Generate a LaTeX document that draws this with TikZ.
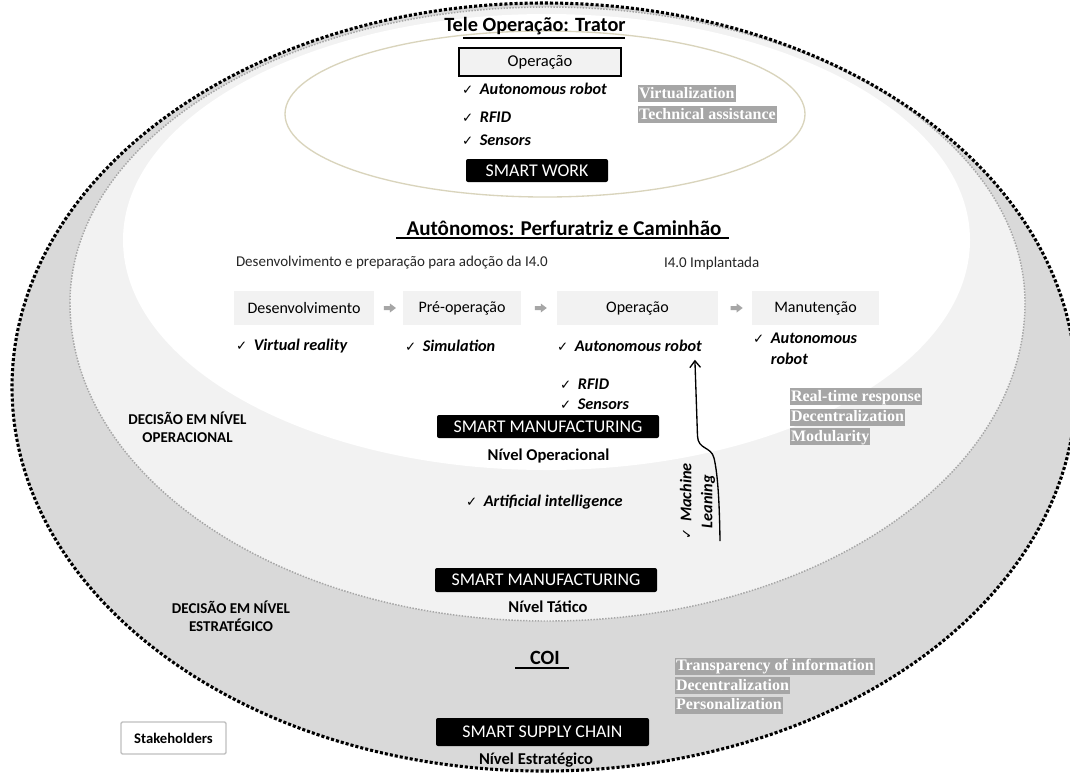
\documentclass[tikz,border=0pt]{standalone}
\usepackage{fontspec}
\setmainfont{Carlito}
\newfontfamily\tagfont{Liberation Serif}
\newfontfamily\tickfont{DejaVu Sans}
\usetikzlibrary{calc,arrows.meta}

\definecolor{ringouter}{HTML}{D9D9D9}
\definecolor{ringmid}{HTML}{F2F2F2}
\definecolor{ringdots}{HTML}{A6A6A6}
\definecolor{teleline}{HTML}{D9D4BC}
\definecolor{tagfill}{HTML}{A6A6A6}
\definecolor{stagefill}{HTML}{F2F2F2}
\definecolor{cuegray}{HTML}{A6A6A6}
\definecolor{stakeline}{HTML}{BFBFBF}

% check mark used in front of every technology item
\newcommand{\tick}{{\tickfont\fontsize{10}{10}\selectfont ✓}\hspace{5pt}}

\begin{document}
\begin{tikzpicture}[x=0.75pt, y=-0.75pt,
  every node/.style={inner sep=0pt, outer sep=0pt},
  titleA/.style={font=\fontsize{15.2}{18}\selectfont\bfseries},
  titleB/.style={font=\fontsize{15.8}{19}\selectfont\bfseries},
  rule/.style={line width=1pt},
  opbox/.style={draw=black, line width=0.9pt, fill=stagefill, minimum width=121.5pt, minimum height=21pt, font=\fontsize{12.4}{15}\selectfont},
  item/.style={anchor=west, font=\fontsize{12.2}{15.75}\selectfont\bfseries\itshape},
  blackbox/.style={fill=black, text=white, rounded corners=1.5pt, font=\fontsize{13.4}{16}\selectfont},
  tag/.style={anchor=west, fill=tagfill, text=white, font=\tagfont\bfseries\fontsize{12}{14}\selectfont, inner xsep=0.8pt, inner ysep=0.5pt, text height=9.3pt, text depth=2.45pt},
  phase/.style={anchor=west, text=black!85, font=\fontsize{11.25}{13}\selectfont},
  stagebox/.style={fill=stagefill, minimum height=25.5pt, font=\fontsize{12}{14}\selectfont},
  cue/.style={fill=cuegray},
  level/.style={font=\fontsize{12.4}{15}\selectfont\bfseries},
  decision/.style={align=center, font=\fontsize{11.25}{13.25}\selectfont\bfseries},
  stakebox/.style={draw=stakeline, line width=1.1pt, fill=white, rounded corners=1pt, minimum width=78.75pt, minimum height=24pt, font=\fontsize{11}{13}\selectfont\bfseries},
  learn/.style={line width=1pt, -{Straight Barb[length=5pt, width=8pt]}},
]
\useasboundingbox (0,0) rectangle (1070,772);
\clip (0,0) rectangle (1070,772);
\fill[white] (0,0) rectangle (1070,772);

% decision levels as nested rings
\fill[ringouter] (544,387) ellipse [x radius=532, y radius=384];
\fill[ringmid] (70,303) arc[start angle=180, end angle=360, x radius=477.5, y radius=296]
               arc[start angle=0, end angle=180, x radius=477.5, y radius=318] -- cycle;
\fill[white] (123,240) arc[start angle=180, end angle=360, x radius=423.5, y radius=226]
             arc[start angle=0, end angle=180, x radius=423.5, y radius=230] -- cycle;
\draw[teleline, line width=1pt] (545,114) ellipse [x radius=260, y radius=83];
\draw[ringdots, line width=1.1pt, dash pattern=on 1.1pt off 1.1pt]
      (70,303) arc[start angle=180, end angle=360, x radius=477.5, y radius=296]
               arc[start angle=0, end angle=180, x radius=477.5, y radius=318] -- cycle;
\draw[black, line width=2.3pt, dash pattern=on 2.3pt off 1.5pt] (544,387) ellipse [x radius=532, y radius=384];

% tele-operation
\node[titleA] (tele) at (535,26) {Tele Operação: Trator};
\draw[rule] (463,38) -- (625,38);
\node[opbox] (teleop) at (540,62) {Operação};
\node[item] (tw1) at (462,89) {\tick Autonomous robot};
\node[item] (tw2) at (462,117) {\tick RFID};
\node[item] (tw3) at (462,140) {\tick Sensors};
\node[blackbox, minimum width=106.5pt, minimum height=17.25pt] (swork) at (537,170.5) {SMART WORK};
\node[tag] (tg1) at (638,93.5) {Virtualization};
\node[tag] (tg2) at (638,114.5) {Technical assistance};

% autonomous drilling and hauling
\node[titleB] (auto) at (564,228) {Autônomos: Perfuratriz e Caminhão};
\draw[rule] (396,238) -- (729,238);
\node[phase] (ph1) at (236,263) {Desenvolvimento e preparação para adoção da I4.0};
\node[phase] (ph2) at (664,263) {I4.0 Implantada};

\node[stagebox, minimum width=105pt] (st1) at (304,308) {Desenvolvimento};
\node[stagebox, minimum width=88.5pt] (st2) at (462,308) {Pré-operação};
\node[stagebox, minimum width=120.75pt] (st3) at (637.5,308) {Operação};
\node[stagebox, minimum width=95.25pt] (st4) at (815.5,308) {Manutenção};

\foreach \a/\b/\c in {st1/st2/cu1, st2/st3/cu2, st3/st4/cu3}{
  \coordinate (\c) at ($(\a.east)!0.55!(\b.west)$);
  \fill[cue] (\c) ++(-6,-2) -- ++(6,0) -- ++(0,-2.5) -- ++(6,4.5) -- ++(-6,4.5) -- ++(0,-2.5) -- ++(-6,0) -- cycle;
}

\node[item] (ck1) at (236,346) {\tick Virtual reality};
\node[item] (ck2) at (405,346) {\tick Simulation};
\node[item] (ck3) at (557,346) {\tick Autonomous robot};
\node[item, align=left] (ck4) at (753,349) {\tick Autonomous\\\hphantom{\tick}robot};
\node[item] (rf) at (560,384) {\tick RFID};
\node[item] (sn) at (560,404) {\tick Sensors};

\node[blackbox, minimum width=166.5pt, minimum height=17.25pt] (sm1) at (548,426.5) {SMART MANUFACTURING};
\node[level] (lvop) at (548.5,456) {Nível Operacional};
\node[item] (ai) at (466,502) {\tick Artificial intelligence};
\node[decision] (dop) at (187.5,427) {DECISÃO EM NÍVEL\\OPERACIONAL};

\node[tag] (rt1) at (790,396.5) {Real-time response};
\node[tag] (rt2) at (790,417) {Decentralization};
\node[tag] (rt3) at (790,436.5) {Modularity};

% machine learning feedback
\node[rotate=90, align=center, font=\fontsize{12.2}{15.75}\selectfont\bfseries\itshape] (ml) at (697.5,501.5) {\tick Machine\\Leaning};
\coordinate (mlfoot) at (720,541);
\draw[learn] (mlfoot) .. controls (719.5,505) and (718,475) .. (714,458)
                      .. controls (711,446) and (698,450) .. (697.5,436)
                      -- ($(ck3.south east)+(-7,8)$);

% tactical level
\node[blackbox, minimum width=166.5pt, minimum height=18pt] (sm2) at (546,580) {SMART MANUFACTURING};
\node[level] (lvtac) at (548,607) {Nível Tático};
\node[decision] (dst) at (231,616.5) {DECISÃO EM NÍVEL\\ESTRATÉGICO};

% strategic level
\node[titleA] (coi) at (545,658) {COI};
\draw[rule] (515,668) -- (569,668);
\node[tag] (tr1) at (675,666) {Transparency of information};
\node[tag] (tr2) at (675,685.5) {Decentralization};
\node[tag] (tr3) at (675,705) {Personalization};
\node[blackbox, minimum width=159.75pt, minimum height=21pt] (ssc) at (542.5,732) {SMART SUPPLY CHAIN};
\node[level] (lvst) at (536,760) {Nível Estratégico};
\node[stakebox] (stake) at (173.5,738) {Stakeholders};
\end{tikzpicture}
\end{document}
